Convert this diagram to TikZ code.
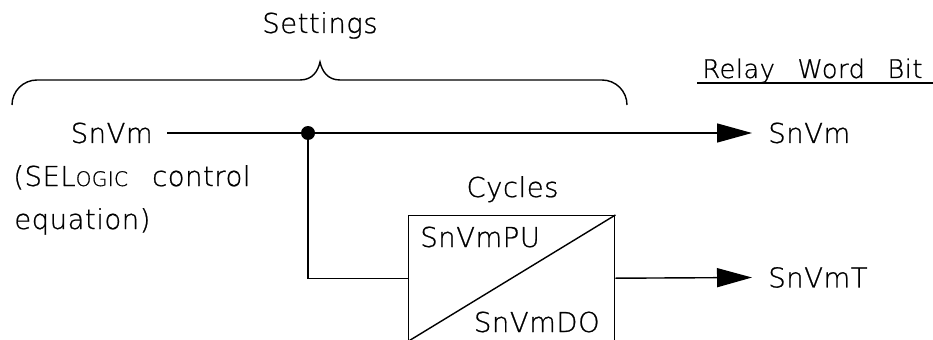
\documentclass[tikz,border=0pt]{standalone}
\usepackage{fontspec}
\setmainfont{DejaVu Sans ExtraLight}[LetterSpace=2,WordSpace=2.6,FakeBold=0.8]
\usepackage{tikz}
\usetikzlibrary{calc,arrows.meta}
\tikzset{
  sigline/.style={draw=black,line width=0.8pt},
  sigarrow/.style={sigline,-{Triangle[length=0.7cm,width=0.38cm]}},
  lbl/.style={inner xsep=0pt,inner ysep=0pt,font=\fontsize{15.6}{18}\selectfont},
  pinlbl/.style={lbl,inner xsep=#1},
  pinlbl/.default=0.3cm,
  jdot/.style={circle,fill=black,inner sep=0pt,minimum size=0.28cm},
  tdbox/.style={draw=black,line width=0.8pt,minimum width=4.12cm,minimum height=2.5cm,inner sep=0pt},
}
\newcommand{\sclogic}{SEL{\fontsize{11.4}{13}\selectfont OGIC}}

\begin{document}
\begin{tikzpicture}
        \useasboundingbox (0,0) rectangle (18.66,6.78);
        % settings brace
        \draw[sigline] (0.24,4.68) arc[start angle=180,end angle=90,radius=0.5]
          -- (6.0,5.18) .. controls (6.25,5.18) and (6.36,5.36) .. (6.4,5.54)
          .. controls (6.44,5.36) and (6.55,5.18) .. (6.8,5.18)
          -- (12.04,5.18) arc[start angle=90,end angle=0,radius=0.5];
        \node[lbl,anchor=base] (set) at (6.4,6.12) {Settings};
        % input
        \node[pinlbl=0.28cm,anchor=east] (inA) at (3.34,4.12) {SnVm};
        \node[lbl,anchor=base west] (eqA) at (0.26,3.06) {(\sclogic{} control};
        \node[lbl,anchor=base west] (eqB) at (0.28,2.2) {equation)};
        \node[jdot] (jn) at (6.16,4.12) {};
        % timer
        \node[tdbox,anchor=north west] (cyc) at (8.16,2.48) {};
        \draw[sigline] (cyc.south west) -- (cyc.north east);
        \node[lbl,anchor=base] (cyclbl) at (10.25,2.84) {Cycles};
        \node[lbl,anchor=base west] (pu) at (8.4,1.84) {SnVmPU};
        \node[lbl,anchor=base east] (do) at (12.0,0.14) {SnVmDO};
        % relay word bits
        \node[lbl,anchor=base west,font=\fontsize{14.6}{17}\selectfont] (rw) at (14.04,5.22) {Relay Word Bit};
        \draw[sigline] ([xshift=-0.1cm]rw.south west) -- (18.66,0 |- rw.south east);
        \node[pinlbl=0.32cm,anchor=west] (outA) at (15.04,4.12) {SnVm};
        \node[pinlbl=0.32cm,anchor=west] (outB) at (15.04,1.23) {SnVmT};
        % connections
        \draw[sigline] (inA.east) -- (jn.center);
        \draw[sigarrow] (jn.center) -- (outA.west);
        \draw[sigline] (jn.center) |- (cyc.west);
        \draw[sigarrow] (cyc.east) -- (outB.west);
      \end{tikzpicture}
\end{document}
